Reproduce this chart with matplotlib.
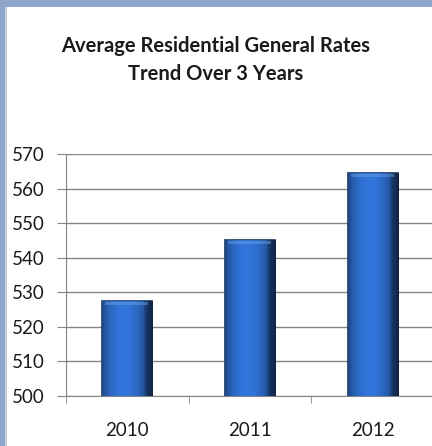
import numpy as np
import matplotlib.pyplot as plt
from matplotlib.patches import Rectangle

years = ["2010", "2011", "2012"]
rates = [527.5, 545.1, 564.5]
yticks = list(range(500, 571, 10))

W, H = 432, 446
fig = plt.figure(figsize=(W / 100, H / 100), dpi=100)
fig.patch.set_facecolor("white")

# frame of the chart window (blue strip on left and top)
fig.patches.append(Rectangle((0, 0), 5 / W, 1, transform=fig.transFigure,
                             facecolor="#8fa6cc", edgecolor="none", zorder=0))
fig.patches.append(Rectangle((0, 1 - 7 / H), 1, 7 / H, transform=fig.transFigure,
                             facecolor="#8fa6cc", edgecolor="none", zorder=0))
fig.patches.append(Rectangle((5 / W, 0), 1.5 / W, 1 - 7 / H, transform=fig.transFigure,
                             facecolor="#c8ccd4", edgecolor="none", zorder=0))

# axes: left at x=66, right beyond the image at ~434, y 154..396
left, right = 66 / W, 434 / W
bottom, top = 1 - 396 / H, 1 - 154 / H
ax = fig.add_axes([left, bottom, right - left, top - bottom])
ax.set_facecolor("none")

x = np.arange(len(years))
bars = ax.bar(x, [r - 500 for r in rates], bottom=500, width=0.41,
              color="#2f6cc0", edgecolor="#16365f", linewidth=1.2, zorder=3)

# horizontal gradient inside the bars
grad = np.linspace(0, 1, 256)
prof = 0.55 + 0.45 * np.sin(np.pi * np.clip(grad * 1.15, 0, 1)) ** 0.6
prof[grad > 0.8] *= np.linspace(1, 0.55, (grad > 0.8).sum())
base = np.array([0.17, 0.40, 0.75])
img = np.clip(prof[None, :, None] * base[None, None, :] * 1.15, 0, 1)
for b in bars:
    x0, w = b.get_x(), b.get_width()
    y0, h = b.get_y(), b.get_height()
    im = ax.imshow(img, extent=[x0, x0 + w, y0, y0 + h], aspect="auto",
                   zorder=3.5, interpolation="bilinear")
    im.set_clip_path(b)
    # soft highlight along the top edge
    ax.add_patch(Rectangle((x0 + w * 0.06, y0 + h - 1.2), w * 0.86, 0.9,
                           facecolor="#6fa3e3", edgecolor="none", alpha=0.45, zorder=3.6))

ax.set_xlim(-0.5, 2.5)
ax.set_ylim(500, 570)
ax.set_yticks(yticks)
ax.set_yticklabels([str(t) for t in yticks])
ax.set_xticks(x)
ax.set_xticklabels(years)
ax.set_xticks([-0.5, 0.5, 1.5, 2.5], minor=True)

ax.grid(axis="y", color="#858585", linewidth=1.0, zorder=0)
for s in ["top", "right"]:
    ax.spines[s].set_visible(False)
ax.spines["left"].set_color("#858585")
ax.spines["bottom"].set_color("#858585")
ax.tick_params(axis="y", length=6.5, color="#858585", pad=9, labelsize=13.5)
ax.tick_params(axis="x", which="major", length=0, pad=19, labelsize=13.5)
ax.tick_params(axis="x", which="minor", length=5, color="#858585")
for lab in ax.get_xticklabels() + ax.get_yticklabels():
    lab.set_fontfamily("Lato")
    lab.set_color("#1a1a1a")

fig.text(216 / W, 1 - 60 / H, "Average Residential General Rates\nTrend Over 3 Years",
         ha="center", va="center", fontsize=14.5, fontweight="bold", family="Lato",
         color="#1a1a1a", linespacing=1.45)

fig.savefig("out.png", dpi=100, facecolor=fig.get_facecolor())
